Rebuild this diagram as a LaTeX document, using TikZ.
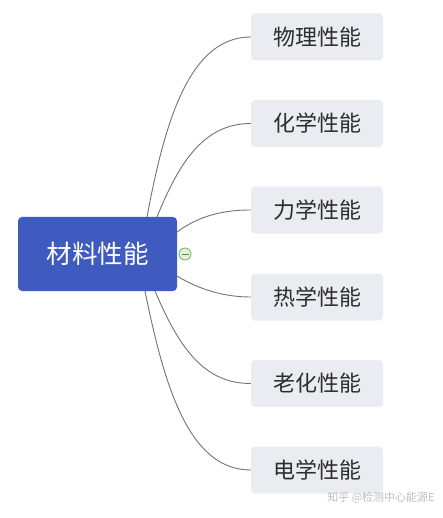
\documentclass[tikz,border=0pt]{standalone}
\usepackage{fontspec}
\setmainfont{Noto Sans CJK SC}
\begin{document}
\begin{tikzpicture}[x=1pt,y=-1pt,
  rootbox/.style={draw=none,fill={rgb,255:red,64;green,91;blue,192},rounded corners=4pt,minimum width=159pt,minimum height=74pt,text=white,font=\fontsize{25.5}{28}\selectfont,inner sep=0pt},
  childbox/.style={draw=none,fill={rgb,255:red,235;green,235;blue,242},rounded corners=4pt,minimum width=132pt,minimum height=47pt,text={rgb,255:red,45;green,45;blue,45},font=\fontsize{22}{24}\selectfont,inner sep=0pt},
  link/.style={draw={rgb,255:red,115;green,115;blue,115},line width=0.9pt}
]
\useasboundingbox (0,0) rectangle (442,518);
\node[rootbox] (root) at (97.5,254) {材料性能};
\node[childbox] (c1) at (317,37) {物理性能};
\node[childbox] (c2) at (317,123.5) {化学性能};
\node[childbox] (c3) at (317,210) {力学性能};
\node[childbox] (c4) at (317,297) {热学性能};
\node[childbox] (c5) at (317,383.5) {老化性能};
\node[childbox] (c6) at (317,470) {电学性能};
\coordinate (s1) at (147,217);
\coordinate (s2) at (157,217);
\coordinate (s3) at (177,232);
\coordinate (s4) at (177,276);
\coordinate (s5) at (155,291);
\coordinate (s6) at (145,291);
\draw[link] (s1) .. controls (165,120) and (190,37) .. (c1.west);
\draw[link] (s2) .. controls (180,160) and (205,123.5) .. (c2.west);
\draw[link] (s3) .. controls (200,215) and (225,210) .. (c3.west);
\draw[link] (s4) .. controls (200,290) and (225,297) .. (c4.west);
\draw[link] (s5) .. controls (180,350) and (205,383.5) .. (c5.west);
\draw[link] (s6) .. controls (165,390) and (190,470) .. (c6.west);
\node[circle,draw={rgb,255:red,120;green,190;blue,110},fill={rgb,255:red,225;green,240;blue,215},line width=0.9pt,minimum size=12pt,inner sep=0pt] (tog) at (185,254) {};
\draw[draw={rgb,255:red,90;green,140;blue,80},line width=0.8pt] ([xshift=-3.5pt]tog.center) -- ([xshift=3.5pt]tog.center);
\node[text={rgb,255:red,190;green,190;blue,190},font=\fontsize{11}{13}\selectfont,inner sep=0pt] (wm) at (381,498) {知乎 @检测中心能源E};
\end{tikzpicture}
\end{document}
